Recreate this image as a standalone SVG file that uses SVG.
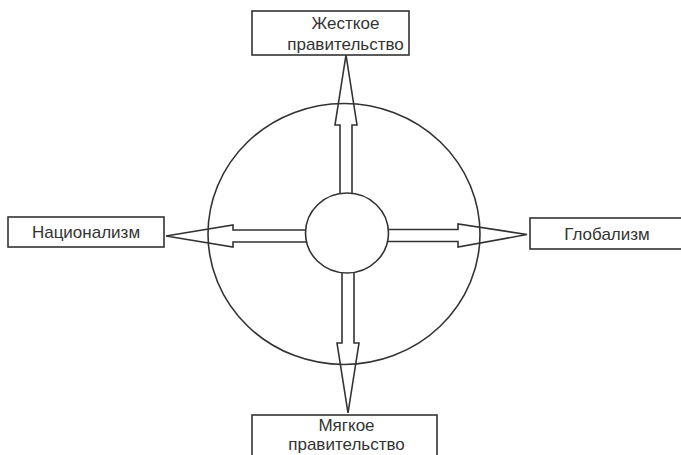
<svg xmlns="http://www.w3.org/2000/svg" width="681" height="455" viewBox="0 0 681 455">
  <style>
    .line { fill: none; stroke: #333; stroke-width: 1.6; }
    .box { fill: #fff; stroke: #333; stroke-width: 1.6; }
    .hub { fill: #fff; stroke: #333; stroke-width: 1.6; }
    .arrow { fill: none; stroke: #333; stroke-width: 1.6; stroke-linejoin: miter; }
    .label { font-family: "Liberation Sans", Arial, sans-serif; font-size: 17px; fill: #333; text-anchor: middle; }
  </style>
  <rect width="681" height="455" fill="#fff"/>

  <!-- outer ring -->
  <g id="outer-circle">
    <ellipse class="line" cx="344" cy="234" rx="136" ry="130.5"/>
  </g>

  <!-- hollow block arrows from the hub -->
  <g id="connectors">
    <path class="arrow" d="M340,200 V125 H335 L346,55 L357,125 H352 V200"/>
    <path class="arrow" d="M342,268 V343 H337 L348,413 L359,343 H354 V268"/>
    <path class="arrow" d="M312,230 H233 V225 L166,236 L233,247 V242 H312"/>
    <path class="arrow" d="M382,229.5 H458 V224 L527,234.5 L458,247 V241.5 H382"/>
  </g>

  <!-- central hub -->
  <g id="hub">
    <ellipse class="hub" cx="347" cy="233" rx="41.5" ry="40"/>
  </g>

  <g id="node-top">
    <rect class="box" x="252" y="11" width="157" height="44"/>
    <text class="label" x="345.5" y="29">Жесткое</text>
    <text class="label" x="345.5" y="50">правительство</text>
  </g>

  <g id="node-bottom">
    <rect class="box" x="252" y="415" width="185" height="50"/>
    <text class="label" x="346.5" y="431">Мягкое</text>
    <text class="label" x="346.5" y="450">правительство</text>
  </g>

  <g id="node-left">
    <rect class="box" x="8" y="217" width="156" height="30"/>
    <text class="label" x="86" y="237.5">Национализм</text>
  </g>

  <g id="node-right">
    <rect class="box" x="530" y="218" width="160" height="31"/>
    <text class="label" x="607" y="240">Глобализм</text>
  </g>
</svg>
